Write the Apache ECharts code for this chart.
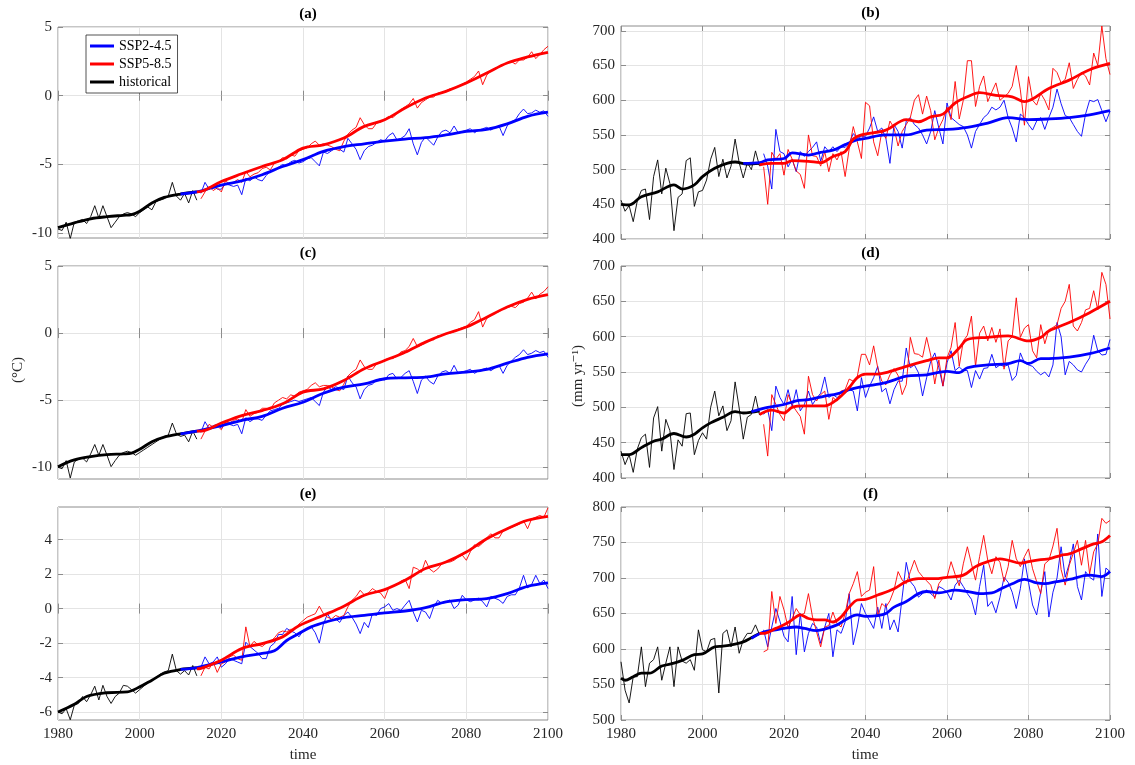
<!DOCTYPE html>
<html>
<head>
<meta charset="utf-8">
<script src="https://cdn.jsdelivr.net/npm/echarts@6/dist/echarts.min.js"></script>
<style>
  html, body { margin: 0; background: #fff; }
  #chartContainer { width: 1135px; height: 765px; }
</style>
</head>
<body>
<div id="chartContainer"></div>
<script>
// x values: annual, historical 1980-2014, scenarios 2015-2100
const histYears = [];
for (let y = 1980; y <= 2014; y++) histYears.push(y);
const sspYears = [];
for (let y = 2015; y <= 2100; y++) sspYears.push(y);

const seriesNames = ['SSP2-4.5', 'SSP5-8.5', 'historical'];

// ---------- (a) temperature ----------
const histA = [-9.7,-9.8,-9.2,-10.4,-9.2,-9.1,-9.0,-9.3,-8.8,-8.0,
  -8.9,-8.0,-8.8,-9.6,-9.2,-8.8,-8.6,-8.5,-8.6,-8.8,
  -8.5,-8.3,-8.1,-8.3,-7.7,-7.6,-7.5,-7.3,-6.3,-7.3,
  -7.6,-7.1,-7.8,-6.9,-7.6];
const ssp245A = [-7.1,-6.3,-6.8,-6.5,-6.8,-6.8,-6.4,-6.5,-6.6,-6.5,
  -7.2,-6.0,-6.2,-5.9,-6.1,-6.2,-5.8,-5.5,-5.4,-5.2,
  -5.0,-5.1,-4.8,-4.7,-4.9,-4.8,-4.6,-4.5,-4.8,-5.1,
  -4.1,-4.2,-4.0,-3.8,-3.9,-4.1,-3.1,-3.5,-3.9,-4.65,
  -4.0,-3.7,-3.6,-3.4,-3.2,-3.3,-2.9,-2.7,-3.2,-3.1,
  -2.9,-2.4,-3.5,-4.3,-3.4,-3.0,-3.3,-3.6,-3.0,-2.6,
  -2.5,-2.7,-2.2,-2.7,-2.6,-2.5,-2.4,-2.7,-2.5,-2.4,
  -2.3,-2.5,-2.3,-2.2,-2.9,-2.2,-1.9,-1.75,-1.3,-0.97,
  -1.3,-1.25,-1.05,-1.2,-1.1,-1.5];
const ssp585A = [-7.5,-7.0,-6.6,-6.9,-6.7,-7.0,-6.2,-6.4,-6.3,-6.1,
  -6.3,-5.5,-5.9,-5.7,-5.6,-5.3,-5.2,-5.4,-4.9,-4.8,
  -4.5,-4.6,-4.3,-4.4,-4.0,-3.9,-3.8,-3.5,-3.3,-3.6,
  -3.5,-3.6,-3.7,-3.9,-4.0,-3.3,-2.8,-2.5,-2.3,-1.6,
  -2.1,-2.4,-2.4,-2.0,-1.9,-1.7,-1.5,-1.6,-1.3,-1.0,
  -0.8,-0.6,-0.2,-0.9,-0.5,-0.3,-0.1,-0.1,0.2,0.2,
  0.35,0.5,0.55,0.7,0.85,1.0,1.2,1.4,1.8,0.8,
  1.5,1.8,2.0,2.1,2.2,2.4,2.5,2.3,2.6,2.6,
  2.8,3.2,2.7,3.0,3.35,3.6];
const histSmoothA = [[1980,-9.6],[1984,-9.25],[1988,-8.95],[1992,-8.8],[1996,-8.7],[1998,-8.65],
  [2000,-8.4],[2003,-7.8],[2006,-7.4],[2010,-7.15],[2014,-7.0]];
const ssp245SmoothA = [[2010,-7.15],[2014,-7.0],[2020,-6.5],[2025,-6.2],[2030,-5.75],[2035,-5.15],
  [2040,-4.65],[2045,-4.05],[2050,-3.7],[2055,-3.5],[2060,-3.3],[2065,-3.15],[2070,-3.05],
  [2075,-2.85],[2080,-2.6],[2085,-2.45],[2090,-2.05],[2095,-1.5],[2100,-1.2]];
const ssp585SmoothA = [[2014,-7.0],[2015,-6.97],[2020,-6.24],[2025,-5.68],[2030,-5.15],[2035,-4.66],
  [2040,-3.81],[2045,-3.57],[2050,-3.08],[2055,-2.23],[2060,-1.75],[2065,-0.9],[2070,-0.17],
  [2075,0.32],[2080,0.92],[2085,1.65],[2090,2.38],[2095,2.82],[2100,3.16]];

// ---------- (b) precipitation ----------
const histB = [456,440,448,425,455,470,472,428,490,514,
  465,502,480,412,460,465,513,517,447,468,
  470,485,515,532,490,515,488,505,544,510,
  488,510,500,527,505];
const ssp245B = [523,505,472,558,526,523,504,515,497,526,
  519,526,532,540,512,533,526,533,526,533,
  532,538,552,545,548,548,560,576,555,560,
  545,509,565,555,531,570,575,565,560,550,
  537,555,585,560,537,596,575,570,565,562,
  550,531,555,565,575,580,590,586,590,600,
  575,560,540,580,575,565,557,570,575,558,
  575,590,616,595,578,575,565,555,548,580,
  600,598,601,585,569,584];
const ssp585B = [504,450,525,515,523,492,529,515,498,493,
  473,550,520,519,505,526,497,523,514,526,
  490,530,562,540,516,597,592,540,520,555,
  545,570,560,534,555,565,575,600,608,580,
  606,585,543,560,572,590,572,627,573,600,
  657,657,591,620,635,598,612,625,600,605,
  610,620,650,615,564,634,600,593,610,600,
  586,646,640,625,630,654,617,630,640,635,
  622,668,650,707,660,637];
const histSmoothB = [[1980,450],[1982,449],[1985,461],[1989,468],[1993,478],[1995,472],[1998,478],
  [2000,490],[2003,502],[2006,509],[2008,511],[2011,508],[2014,509]];
const ssp245SmoothB = [[2010,509],[2014,510],[2016,514],[2020,516],[2022,524],[2026,521],[2029,525],
  [2032,528],[2035,536],[2038,543],[2040,545],[2045,550],[2050,550],[2055,557],[2060,558],
  [2065,561],[2070,567],[2075,575],[2080,572],[2085,573],[2090,575],[2095,579],[2100,585]];
const ssp585SmoothB = [[2014,507],[2017,509],[2020,509],[2022,513],[2026,512],[2029,510],[2032,519],
  [2035,526],[2037,544],[2039,550],[2045,557],[2050,572],[2053,569],[2056,576],[2059,580],
  [2062,596],[2065,605],[2068,611],[2072,607],[2076,605],[2079,598],[2085,617],[2090,629],
  [2095,644],[2100,653]];

// ---------- (c) temperature ----------
const histC = [-10.0,-10.1,-9.5,-10.8,-9.6,-9.4,-9.3,-9.6,-9.0,-8.3,
  -9.1,-8.3,-9.1,-9.95,-9.5,-9.1,-8.9,-8.8,-8.9,-9.1,
  -8.9,-8.7,-8.5,-8.3,-8.1,-7.9,-7.7,-7.6,-6.7,-7.5,
  -7.7,-7.6,-8.1,-7.3,-7.9];
const ssp245C = [-7.4,-6.6,-7.1,-6.9,-6.8,-7.1,-6.7,-6.8,-6.9,-6.8,
  -7.5,-6.3,-6.6,-6.4,-6.4,-6.5,-6.1,-5.8,-5.7,-5.6,
  -5.3,-5.2,-5.1,-5.0,-5.1,-5.0,-4.9,-4.8,-5.1,-5.4,
  -4.4,-4.0,-4.2,-4.0,-4.1,-4.2,-3.2,-3.7,-4.0,-4.9,
  -4.2,-3.9,-3.8,-3.5,-3.4,-3.5,-3.1,-3.0,-3.4,-3.3,
  -3.0,-2.8,-3.6,-4.5,-3.5,-3.2,-3.6,-3.8,-3.2,-2.9,
  -2.8,-3.0,-2.4,-3.0,-2.9,-2.8,-2.7,-3.0,-2.8,-2.7,
  -2.6,-2.8,-2.6,-2.4,-3.0,-2.4,-2.1,-1.8,-1.6,-1.24,
  -1.6,-1.5,-1.3,-1.45,-1.35,-1.8];
const ssp585C = [-7.9,-7.3,-6.8,-7.0,-6.9,-7.2,-6.6,-6.7,-6.5,-6.4,
  -6.6,-5.7,-6.2,-6.0,-5.9,-5.6,-5.6,-5.7,-5.2,-5.0,
  -4.8,-4.9,-4.6,-4.7,-4.4,-4.3,-4.2,-3.9,-3.7,-4.0,
  -3.9,-3.9,-4.0,-4.2,-4.3,-3.8,-3.2,-2.9,-2.7,-2.0,
  -2.5,-2.7,-2.7,-2.3,-2.2,-2.0,-1.9,-1.9,-1.7,-1.4,
  -1.3,-1.0,-0.4,-1.0,-0.9,-0.7,-0.5,-0.5,-0.2,-0.2,
  -0.05,0.0,0.1,0.3,0.4,0.5,0.8,1.0,1.6,0.45,
  1.1,1.3,1.5,1.6,1.8,1.9,2.0,1.9,2.2,2.3,
  2.6,3.05,2.55,2.9,3.1,3.45];
const histSmoothC = [[1980,-9.95],[1984,-9.45],[1988,-9.2],[1992,-9.05],[1996,-9.0],[1998,-8.95],
  [2000,-8.65],[2003,-8.1],[2006,-7.75],[2010,-7.5],[2014,-7.3]];
const ssp245SmoothC = [[2010,-7.5],[2014,-7.3],[2020,-6.9],[2025,-6.5],[2030,-6.2],[2035,-5.6],
  [2040,-5.15],[2045,-4.48],[2050,-4.03],[2055,-3.78],[2060,-3.4],[2065,-3.33],[2070,-3.28],
  [2075,-3.03],[2080,-2.9],[2085,-2.7],[2090,-2.24],[2095,-1.8],[2100,-1.54]];
const ssp585SmoothC = [[2014,-7.3],[2015,-7.3],[2020,-6.7],[2025,-6.15],[2030,-5.77],[2035,-5.27],
  [2040,-4.4],[2045,-4.15],[2050,-3.53],[2055,-2.66],[2060,-2.04],[2065,-1.42],[2070,-0.67],
  [2075,-0.05],[2080,0.45],[2085,1.19],[2090,1.94],[2095,2.51],[2100,2.86]];

// ---------- (d) precipitation ----------
const histD = [438,419,433,408,441,457,462,415,485,501,
  438,483,467,412,454,445,491,492,433,453,
  464,455,500,523,488,502,467,481,536,499,
  455,486,490,516,489];
const ssp245D = [490,497,467,530,514,504,525,501,525,495,
  504,523,504,513,520,543,514,518,514,516,
  520,525,523,495,542,514,530,542,558,522,
  527,505,525,537,537,584,556,560,549,516,
  542,565,577,556,530,563,580,552,557,552,
  552,528,552,540,555,556,575,556,560,558,
  560,538,545,577,563,560,558,551,546,550,
  543,560,620,600,546,565,560,553,550,561,
  570,602,580,574,575,596];
const ssp585D = [476,431,518,504,490,481,518,504,495,487,
  462,544,518,509,518,523,483,514,509,523,
  525,540,537,544,575,575,560,587,556,537,
  532,546,555,545,518,532,599,576,575,571,
  599,574,533,567,530,570,585,620,558,594,
  602,629,558,605,615,594,613,592,611,554,
  594,600,655,599,612,617,580,570,617,590,
  610,613,617,640,650,674,615,608,620,638,
  640,665,638,691,674,625];
const histSmoothD = [[1980,433],[1982,433],[1985,443],[1988,452],[1990,455],[1993,463],[1996,458],
  [1998,462],[2000,471],[2002,478],[2005,486],[2008,494],[2010,492],[2014,495]];
const ssp245SmoothD = [[2012,494],[2014,497],[2016,500],[2020,504],[2023,509],[2026,511],[2030,516],
  [2033,519],[2036,525],[2038,528],[2040,530],[2045,535],[2050,544],[2055,546],[2060,551],
  [2063,549],[2065,556],[2070,560],[2075,562],[2078,566],[2080,562],[2083,569],[2085,569],
  [2090,571],[2095,576],[2100,584]];
const ssp585SmoothD = [[2014,490],[2017,496],[2020,492],[2022,500],[2025,502],[2030,502],[2033,511],
  [2036,528],[2038,542],[2040,547],[2043,547],[2045,549],[2050,558],[2055,566],[2058,570],
  [2060,570],[2063,584],[2065,596],[2070,599],[2075,601],[2080,594],[2083,599],[2085,608],
  [2090,620],[2095,634],[2100,650]];

// ---------- (e) temperature ----------
const histE = [-6.0,-6.1,-5.8,-6.45,-5.6,-5.5,-5.1,-5.4,-5.0,-4.5,
  -5.3,-4.45,-5.1,-5.5,-5.1,-4.9,-4.45,-4.5,-4.7,-4.9,
  -4.7,-4.5,-4.3,-4.15,-4.0,-3.8,-3.67,-3.6,-2.64,-3.6,
  -3.8,-3.6,-3.85,-3.3,-3.9];
const ssp245E = [-3.4,-2.8,-3.2,-3.1,-2.8,-3.4,-3.2,-2.9,-3.0,-3.1,
  -3.2,-1.95,-2.2,-2.4,-2.6,-2.9,-2.9,-2.2,-2.0,-1.5,
  -1.5,-1.15,-1.3,-1.4,-1.64,-1.3,-1.2,-1.05,-1.4,-2.0,
  -0.9,-0.3,-0.7,-0.6,-0.8,-0.4,-0.2,-0.5,-0.9,-1.45,
  -0.8,-1.1,-0.3,-0.4,0.0,0.1,0.29,-0.1,0.0,-0.1,
  0.2,0.48,-0.2,-0.77,-0.1,-0.2,-0.58,0.1,0.48,0.3,
  0.4,0.5,0.0,0.2,0.77,0.5,0.4,0.5,0.6,0.4,
  0.1,0.7,0.6,0.5,0.3,0.7,0.8,0.8,1.2,1.93,
  1.2,1.4,1.93,1.45,1.65,1.16];
const ssp585E = [-3.9,-3.4,-3.5,-3.1,-3.7,-3.2,-3.1,-2.8,-2.7,-2.9,
  -3.0,-1.06,-2.2,-1.9,-2.1,-2.2,-2.0,-1.9,-1.7,-1.4,
  -1.3,-1.35,-1.2,-1.2,-0.9,-0.7,-0.5,-0.4,-0.3,0.14,
  -0.3,-0.5,-0.6,-0.4,-0.5,-0.4,0.1,0.48,0.7,1.06,
  0.8,0.9,1.16,1.0,0.9,0.58,1.2,1.3,1.4,1.6,
  1.7,1.16,2.4,2.3,2.1,2.8,2.3,2.12,2.3,2.6,
  2.7,2.7,2.8,3.0,3.1,2.8,3.3,3.7,3.6,3.8,
  4.1,4.34,4.1,4.1,4.5,4.6,4.7,4.8,4.9,5.1,
  4.63,5.2,5.3,5.4,5.3,5.85];
const histSmoothE = [[1980,-6.0],[1984,-5.55],[1987,-5.1],[1992,-4.88],[1997,-4.83],[2000,-4.54],
  [2003,-4.15],[2006,-3.75],[2010,-3.53],[2014,-3.44]];
const ssp245SmoothE = [[2010,-3.53],[2014,-3.42],[2020,-3.09],[2025,-2.8],[2030,-2.6],[2033,-2.45],
  [2036,-1.85],[2039,-1.45],[2042,-1.06],[2046,-0.75],[2050,-0.52],[2055,-0.39],[2060,-0.25],
  [2065,-0.14],[2070,0.06],[2075,0.39],[2080,0.52],[2085,0.58],[2090,0.87],[2095,1.29],[2100,1.49]];
const ssp585SmoothE = [[2014,-3.5],[2015,-3.47],[2020,-2.99],[2025,-2.32],[2030,-2.03],[2035,-1.64],
  [2039,-1.0],[2045,-0.39],[2050,0.14],[2055,0.77],[2060,1.1],[2065,1.64],[2070,2.32],[2075,2.7],
  [2080,3.28],[2085,4.05],[2090,4.63],[2095,5.12],[2100,5.35]];

// ---------- (f) precipitation ----------
const histF = [582,542,524,561,561,603,547,580,585,603,
  556,580,603,547,603,583,580,585,570,627,
  599,596,613,615,538,622,627,603,631,594,
  613,622,622,634,620];
const ssp245F = [627,603,631,657,639,618,610,674,592,650,
  596,622,636,631,608,631,650,589,627,622,
  638,678,606,631,664,650,640,629,659,629,
  664,627,641,624,673,722,695,688,673,678,
  683,678,673,688,685,680,669,690,697,688,
  678,670,648,688,718,660,667,651,673,701,
  694,680,657,685,727,694,662,648,680,709,
  645,680,700,744,701,720,748,688,669,709,
  701,697,762,674,714,709];
const ssp585F = [596,599,681,636,674,655,630,643,657,648,
  650,678,645,624,603,631,633,652,636,631,
  650,678,692,709,674,680,683,716,645,664,
  659,668,683,709,697,692,709,725,709,702,
  696,690,671,692,700,701,723,705,689,720,
  744,720,697,730,760,725,706,730,722,695,
  716,753,727,716,730,741,713,695,678,720,
  725,745,770,712,690,718,735,753,718,753,
  706,737,748,784,777,781];
const histSmoothF = [[1980,559],[1981,556],[1983,561],[1985,566],[1987,566],[1990,576],[1993,580],
  [1995,584],[1998,592],[2000,593],[2003,603],[2005,604],[2008,607],[2010,610],[2012,616],[2014,622]];
const ssp245SmoothF = [[2012,615],[2015,624],[2018,627],[2020,629],[2023,631],[2025,629],[2028,626],
  [2030,628],[2033,634],[2035,641],[2038,648],[2040,646],[2043,647],[2045,650],[2047,659],
  [2050,667],[2053,678],[2055,681],[2058,679],[2062,683],[2065,681],[2068,678],[2071,679],
  [2073,684],[2076,692],[2079,698],[2082,693],[2084,692],[2087,695],[2090,698],[2095,704],
  [2098,702],[2100,709]];
const ssp585SmoothF = [[2014,622],[2015,622],[2018,629],[2020,634],[2022,641],[2024,648],[2026,643],
  [2028,641],[2030,641],[2032,638],[2034,645],[2036,659],[2038,669],[2040,670],[2043,676],
  [2047,685],[2050,695],[2053,699],[2057,699],[2060,701],[2064,704],[2067,716],[2070,723],
  [2073,727],[2075,725],[2078,721],[2080,723],[2083,726],[2085,727],[2088,732],[2090,734],
  [2093,741],[2096,748],[2098,751],[2100,760]];

// ---------- layout ----------
const tempTicks = [-10, -5, 0, 5];
const tempTicksE = [-6, -4, -2, 0, 2, 4];
const precipTicks = [400, 450, 500, 550, 600, 650, 700];
const precipTicksF = [500, 550, 600, 650, 700, 750, 800];

const panels = [
  { label: '(a)', left: 58,  top: 27,  width: 490, height: 211, yMin: -10.35, yMax: 5,    yTicks: tempTicks,
    hist: histA, histSm: histSmoothA, ssp245: ssp245A, ssp245Sm: ssp245SmoothA, ssp585: ssp585A, ssp585Sm: ssp585SmoothA },
  { label: '(b)', left: 621, top: 26,  width: 489, height: 213, yMin: 400,    yMax: 707,  yTicks: precipTicks,
    hist: histB, histSm: histSmoothB, ssp245: ssp245B, ssp245Sm: ssp245SmoothB, ssp585: ssp585B, ssp585Sm: ssp585SmoothB },
  { label: '(c)', left: 58,  top: 266, width: 490, height: 213, yMin: -10.87, yMax: 5,    yTicks: tempTicks,
    hist: histC, histSm: histSmoothC, ssp245: ssp245C, ssp245Sm: ssp245SmoothC, ssp585: ssp585C, ssp585Sm: ssp585SmoothC },
  { label: '(d)', left: 621, top: 266, width: 489, height: 212, yMin: 400,    yMax: 700,  yTicks: precipTicks,
    hist: histD, histSm: histSmoothD, ssp245: ssp245D, ssp245Sm: ssp245SmoothD, ssp585: ssp585D, ssp585Sm: ssp585SmoothD },
  { label: '(e)', left: 58,  top: 507, width: 490, height: 213, yMin: -6.46,  yMax: 5.89, yTicks: tempTicksE, xLabels: true,
    hist: histE, histSm: histSmoothE, ssp245: ssp245E, ssp245Sm: ssp245SmoothE, ssp585: ssp585E, ssp585Sm: ssp585SmoothE },
  { label: '(f)', left: 621, top: 507, width: 489, height: 213, yMin: 500,    yMax: 800,  yTicks: precipTicksF, xLabels: true,
    hist: histF, histSm: histSmoothF, ssp245: ssp245F, ssp245Sm: ssp245SmoothF, ssp585: ssp585F, ssp585Sm: ssp585SmoothF }
];

panels.forEach(p => {
  if (p.hist.length !== histYears.length) throw new Error(p.label + ' hist length ' + p.hist.length);
  if (p.ssp245.length !== sspYears.length) throw new Error(p.label + ' ssp245 length ' + p.ssp245.length);
  if (p.ssp585.length !== sspYears.length) throw new Error(p.label + ' ssp585 length ' + p.ssp585.length);
});

const serif = '"Liberation Serif", "DejaVu Serif", serif';
const frameColor = '#8c8c8c';
const textColor = '#262626';
const gridColor = '#e4e4e4';
const blue = '#0000ff', red = '#ff0000', black = '#000000';

function pairs(years, values) {
  return years.map((y, i) => [y, values[i]]);
}

function line(name, idx, data, color, width, z, smooth) {
  return {
    name: name, type: 'line', xAxisIndex: 2 * idx, yAxisIndex: 2 * idx,
    data: data, showSymbol: false, symbol: 'none', smooth: smooth ? 0.35 : false,
    lineStyle: { color: color, width: width }, itemStyle: { color: color },
    z: z, silent: true
  };
}

const plainNumber = v => String(v);

const grids = [], xAxes = [], yAxes = [], series = [], titles = [];
panels.forEach((p, i) => {
  grids.push({ left: p.left, top: p.top, width: p.width, height: p.height,
    show: true, borderColor: frameColor, borderWidth: 1, backgroundColor: 'transparent' });
  const tick = { show: true, inside: true, length: 5, lineStyle: { color: frameColor } };
  xAxes.push({ gridIndex: i, type: 'value', min: 1980, max: 2100, interval: 20,
    axisLine: { show: false }, axisTick: tick,
    axisLabel: { show: !!p.xLabels, color: textColor, fontFamily: serif, fontSize: 15, margin: 7,
      formatter: plainNumber },
    splitLine: { show: true, lineStyle: { color: gridColor, width: 1 } } });
  xAxes.push({ gridIndex: i, type: 'value', position: 'top', min: 1980, max: 2100, interval: 20,
    axisLine: { show: false }, axisTick: tick, axisLabel: { show: false }, splitLine: { show: false } });
  yAxes.push({ gridIndex: i, type: 'value', min: p.yMin, max: p.yMax,
    axisLine: { show: false },
    axisTick: Object.assign({ customValues: p.yTicks }, tick),
    axisLabel: { customValues: p.yTicks, color: textColor, fontFamily: serif, fontSize: 15, margin: 6,
      formatter: plainNumber },
    splitLine: { show: true, lineStyle: { color: gridColor, width: 1 } } });
  yAxes.push({ gridIndex: i, type: 'value', position: 'right', min: p.yMin, max: p.yMax,
    axisLine: { show: false },
    axisTick: Object.assign({ customValues: p.yTicks }, tick),
    axisLabel: { show: false }, splitLine: { show: false } });

  series.push(line('historical annual', i, pairs(histYears, p.hist), black, 0.9, 2, false));
  series.push(line('SSP2-4.5 annual', i, pairs(sspYears, p.ssp245), blue, 0.9, 3, false));
  series.push(line('SSP5-8.5 annual', i, pairs(sspYears, p.ssp585), red, 0.9, 4, false));
  series.push(line('historical', i, p.histSm, black, 2.8, 5, true));
  series.push(line('SSP2-4.5', i, p.ssp245Sm, blue, 2.8, 6, true));
  series.push(line('SSP5-8.5', i, p.ssp585Sm, red, 2.8, 7, true));

  titles.push({ text: p.label, left: p.left + p.width / 2, top: p.top - 25, textAlign: 'center',
    textStyle: { fontFamily: serif, fontSize: 15, fontWeight: 'bold', color: '#000' } });
});

const myChart = echarts.init(document.getElementById('chartContainer'), null, { renderer: 'canvas' });
myChart.setOption({
  animation: false,
  backgroundColor: '#fff',
  title: titles,
  grid: grids,
  xAxis: xAxes,
  yAxis: yAxes,
  legend: {
    data: seriesNames, orient: 'vertical', left: 86, top: 35,
    padding: [4, 6, 4, 4], itemGap: 4, itemWidth: 24, itemHeight: 3, icon: 'rect',
    backgroundColor: '#fff', borderColor: textColor, borderWidth: 0.8, borderRadius: 0,
    textStyle: { fontFamily: serif, fontSize: 14, color: '#000', lineHeight: 14 },
    selectedMode: false
  },
  graphic: [
    { type: 'text', x: 18, y: 370, rotation: Math.PI / 2,
      style: { text: '(°C)', fontFamily: serif, fontSize: 15, fill: textColor, align: 'center', verticalAlign: 'middle' } },
    { type: 'text', x: 578, y: 376, rotation: Math.PI / 2,
      style: { text: '(mm yr⁻¹)', fontFamily: serif, fontSize: 15, fill: textColor, align: 'center', verticalAlign: 'middle' } },
    { type: 'text', x: 303, y: 755,
      style: { text: 'time', fontFamily: serif, fontSize: 15, fill: textColor, align: 'center', verticalAlign: 'middle' } },
    { type: 'text', x: 865, y: 755,
      style: { text: 'time', fontFamily: serif, fontSize: 15, fill: textColor, align: 'center', verticalAlign: 'middle' } }
  ],
  series: series
});
</script>
</body>
</html>
